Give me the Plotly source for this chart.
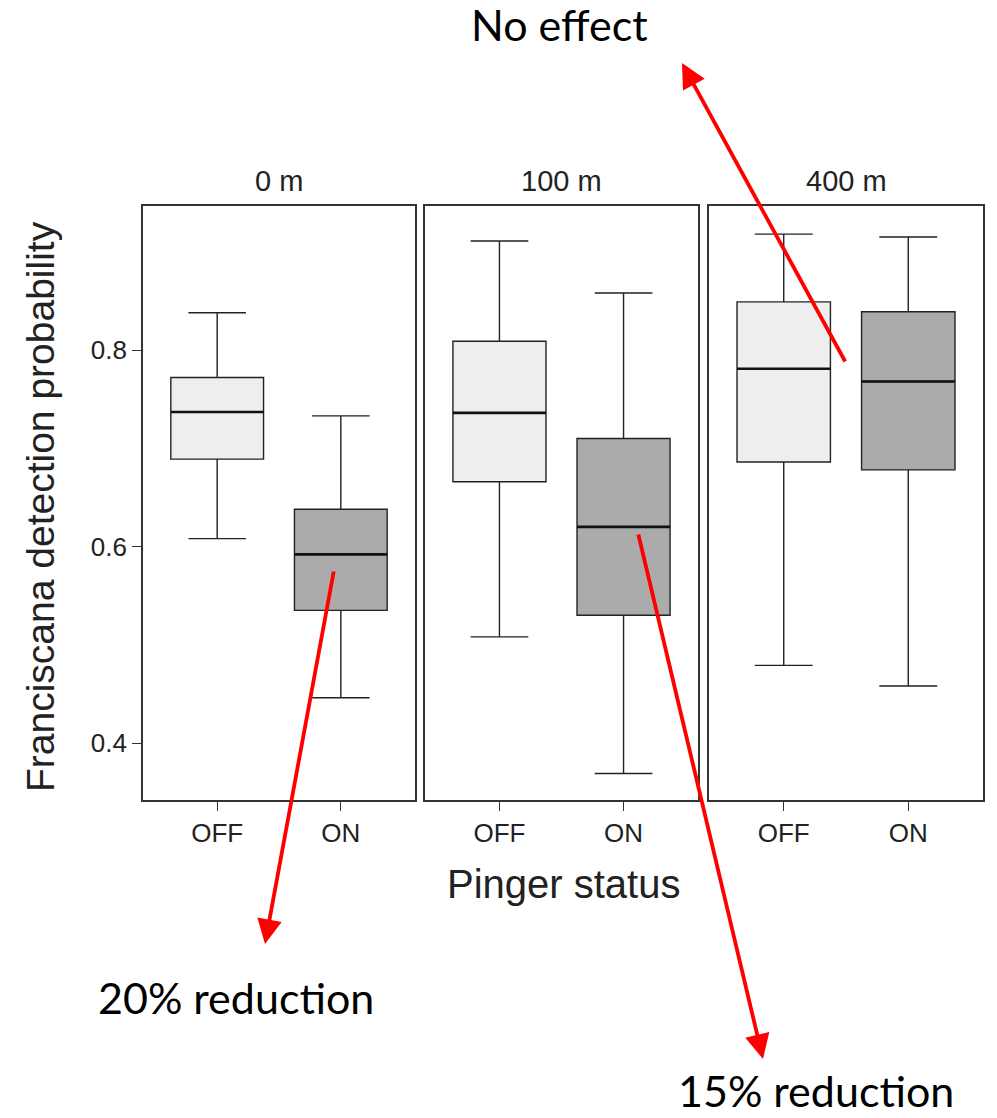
import plotly.graph_objects as go

W, H = 997, 1118

panels = ["0 m", "100 m", "400 m"]
status = ["OFF", "ON"]
# per panel: [OFF, ON]
upper = [[0.838, 0.733], [0.911, 0.858], [0.918, 0.915]]
q3 = [[0.772, 0.638], [0.809, 0.710], [0.849, 0.839]]
median = [[0.737, 0.592], [0.736, 0.620], [0.781, 0.768]]
q1 = [[0.689, 0.535], [0.666, 0.530], [0.686, 0.678]]
lower = [[0.608, 0.446], [0.508, 0.369], [0.479, 0.458]]

fills = {"OFF": "#EEEEEE", "ON": "#ABABAB"}
box_w = 0.75

fig = go.Figure()

domains = [(143 / W, 415 / W), (425 / W, 698 / W), (709 / W, 983 / W)]
ydom = (1 - 800 / H, 1 - 206 / H)

for p in range(3):
    xa = "x" if p == 0 else f"x{p+1}"
    ya = "y" if p == 0 else f"y{p+1}"
    for s, st in enumerate(status):
        fig.add_trace(go.Box(
            x=[s], q1=[q1[p][s]], median=[median[p][s]], q3=[q3[p][s]],
            lowerfence=[lower[p][s]], upperfence=[upper[p][s]],
            fillcolor=fills[st], line=dict(color="#222222", width=1.4),
            width=box_w, whiskerwidth=0.62, boxpoints=False,
            xaxis=xa, yaxis=ya, showlegend=False, hoverinfo="skip",
        ))
        fig.add_trace(go.Scatter(
            x=[s - box_w / 2, s + box_w / 2], y=[median[p][s]] * 2,
            mode="lines", line=dict(color="#111111", width=2.6),
            xaxis=xa, yaxis=ya, showlegend=False, hoverinfo="skip",
        ))

axis_common = dict(showline=True, mirror=True, linecolor="#333333", linewidth=1.6,
                   showgrid=False, zeroline=False)
layout = dict(
    width=W, height=H, margin=dict(l=0, r=0, t=0, b=0),
    paper_bgcolor="white", plot_bgcolor="white",
    font=dict(family="Liberation Sans, Arial, sans-serif", color="#222222"),
)
for p in range(3):
    xk = "xaxis" if p == 0 else f"xaxis{p+1}"
    yk = "yaxis" if p == 0 else f"yaxis{p+1}"
    layout[xk] = dict(axis_common, domain=list(domains[p]), range=[-0.6, 1.6],
                      tickvals=[0, 1], ticktext=status, ticks="outside", ticklen=9,
                      tickcolor="#333333", tickfont=dict(size=26, color="#222222"),
                      anchor="y" if p == 0 else f"y{p+1}")
    layout[yk] = dict(axis_common, domain=list(ydom), range=[0.342, 0.9466],
                      anchor="x" if p == 0 else f"x{p+1}",
                      tickvals=[0.4, 0.6, 0.8], ticktext=["0.4", "0.6", "0.8"],
                      showticklabels=(p == 0), ticks="outside" if p == 0 else "",
                      ticklen=9, tickcolor="#333333",
                      tickfont=dict(size=26, color="#222222"))
fig.update_layout(**layout)

ann = []
for p in range(3):
    ann.append(dict(text=panels[p], x=(domains[p][0] + domains[p][1]) / 2, y=1 - 181 / H,
                    xref="paper", yref="paper", showarrow=False,
                    font=dict(size=29, color="#222222"), xanchor="center", yanchor="middle"))
ann.append(dict(text="Franciscana detection probability", x=41 / W, y=1 - 507 / H,
                xref="paper", yref="paper", showarrow=False, textangle=-90,
                font=dict(size=39, color="#222222"), xanchor="center", yanchor="middle"))
ann.append(dict(text="Pinger status", x=563 / W, y=1 - 884 / H,
                xref="paper", yref="paper", showarrow=False,
                font=dict(size=40, color="#222222"), xanchor="center", yanchor="middle"))

labels = ["No effect", "20% reduction", "15% reduction"]
label_pos = [(559, 25, "middle"), (236, 997, "middle"), (816, 1118, "bottom")]
arrows = [((682, 63), (846, 363)), ((265, 944), (334, 570)), ((763, 1059), (638, 533))]
for txt, (lx, ly, anc) in zip(labels, label_pos):
    ann.append(dict(text=txt, x=lx / W, y=1 - ly / H, xref="paper", yref="paper",
                    showarrow=False, font=dict(family="Lato, Open Sans, sans-serif", size=43, color="black"),
                    xanchor="center", yanchor=anc))
for (tip, tail) in arrows:
    ann.append(dict(text="", x=tip[0] / W, y=1 - tip[1] / H, xref="paper", yref="paper",
                    ax=tail[0] - tip[0], ay=tail[1] - tip[1], axref="pixel", ayref="pixel",
                    showarrow=True, arrowhead=2, arrowsize=1.3, arrowwidth=3.8,
                    arrowcolor="#FF0000"))
fig.update_layout(annotations=ann)

fig.write_html("out.html")
